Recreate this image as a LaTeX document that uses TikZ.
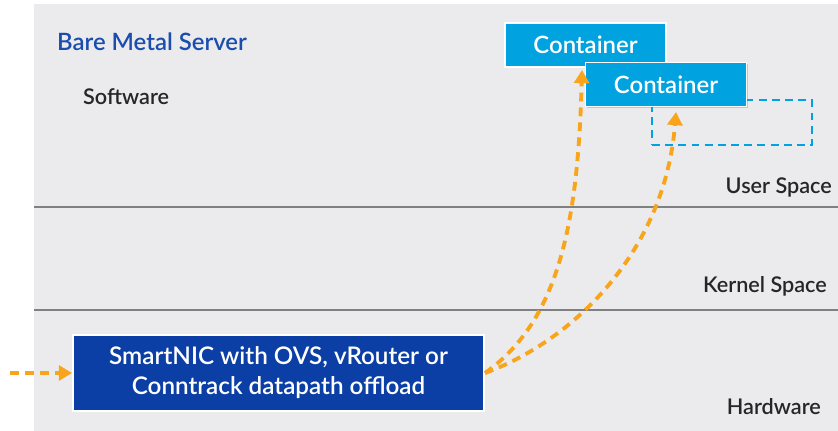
\documentclass[tikz,border=0pt]{standalone}
\usepackage{fontspec}
\setmainfont{Lato Semibold}
\usetikzlibrary{arrows.meta,shadows}
\definecolor{panelgray}{HTML}{EBEBED}
\definecolor{rulegray}{HTML}{808080}
\definecolor{ctblue}{HTML}{00A3E0}
\definecolor{nicblue}{HTML}{0B3FA6}
\definecolor{titleblue}{HTML}{1A4DAE}
\definecolor{floworange}{HTML}{F9A51B}
\tikzset{
  boxnode/.style={draw=white, line width=1.1pt, text=white, align=center,
    drop shadow={shadow xshift=0.8pt, shadow yshift=-0.8pt, opacity=0.35}},
  ctnode/.style={boxnode, fill=ctblue, minimum width=161*0.2mm, minimum height=44*0.2mm, font=\fontsize{13.6}{15}\selectfont},
  layer/.style={anchor=east, font=\fontsize{12.3}{14}\selectfont, text=black!85},
  flow/.style={floworange, line width=2.2pt, dash pattern=on 5pt off 3.5pt,
    -{Triangle[length=7.5pt,width=8.5pt]}}
}

\begin{document}
\begin{tikzpicture}[x=0.2mm,y=-0.2mm]
  \useasboundingbox (0,0) rectangle (838,431);
  \fill[panelgray] (34,4) rectangle (838,431);
  \draw[rulegray, line width=1.2pt] (34,207) -- (838,207);
  \draw[rulegray, line width=1.2pt] (34,310) -- (838,310);

  \node (title) [anchor=west, text=titleblue, font=\fontsize{13.6}{15}\selectfont] at (51,42) {Bare Metal Server};
  \node (sw)    [anchor=west, font=\fontsize{12.3}{14}\selectfont, text=black!85] at (77,97) {Software};
  \node (user)   [layer] at (838,187) {User Space};
  \node (kernel) [layer] at (833,286) {Kernel Space};
  \node (hw)     [layer] at (827,407) {Hardware};

  \node (c1) [ctnode] at (585.5,45) {Container};
  \node (dbox) [draw=ctblue, line width=1.1pt, dash pattern=on 4.5pt off 3pt, minimum width=160*0.2mm, minimum height=45*0.2mm] at (732,122.5) {};
  \node (c2) [ctnode] at (666,84.5) {Container};

  \node (nic) [boxnode, fill=nicblue, minimum width=411*0.2mm, minimum height=76*0.2mm,
    font=\fontsize{13.8}{17}\selectfont] at (278.5,373) {SmartNIC with OVS, vRouter or\\Conntrack datapath offload};

  \coordinate (src) at (10,373);
  \coordinate (tipA) at (582,70);
  \coordinate (tipB) at (676,112);
  \draw[flow] (src) -- (nic.west);
  \draw[flow] (nic.east) .. controls (560,320) and (578,220) .. (tipA);
  \draw[flow] (nic.east) .. controls (575,340) and (665,250) .. (tipB);
\end{tikzpicture}
\end{document}
